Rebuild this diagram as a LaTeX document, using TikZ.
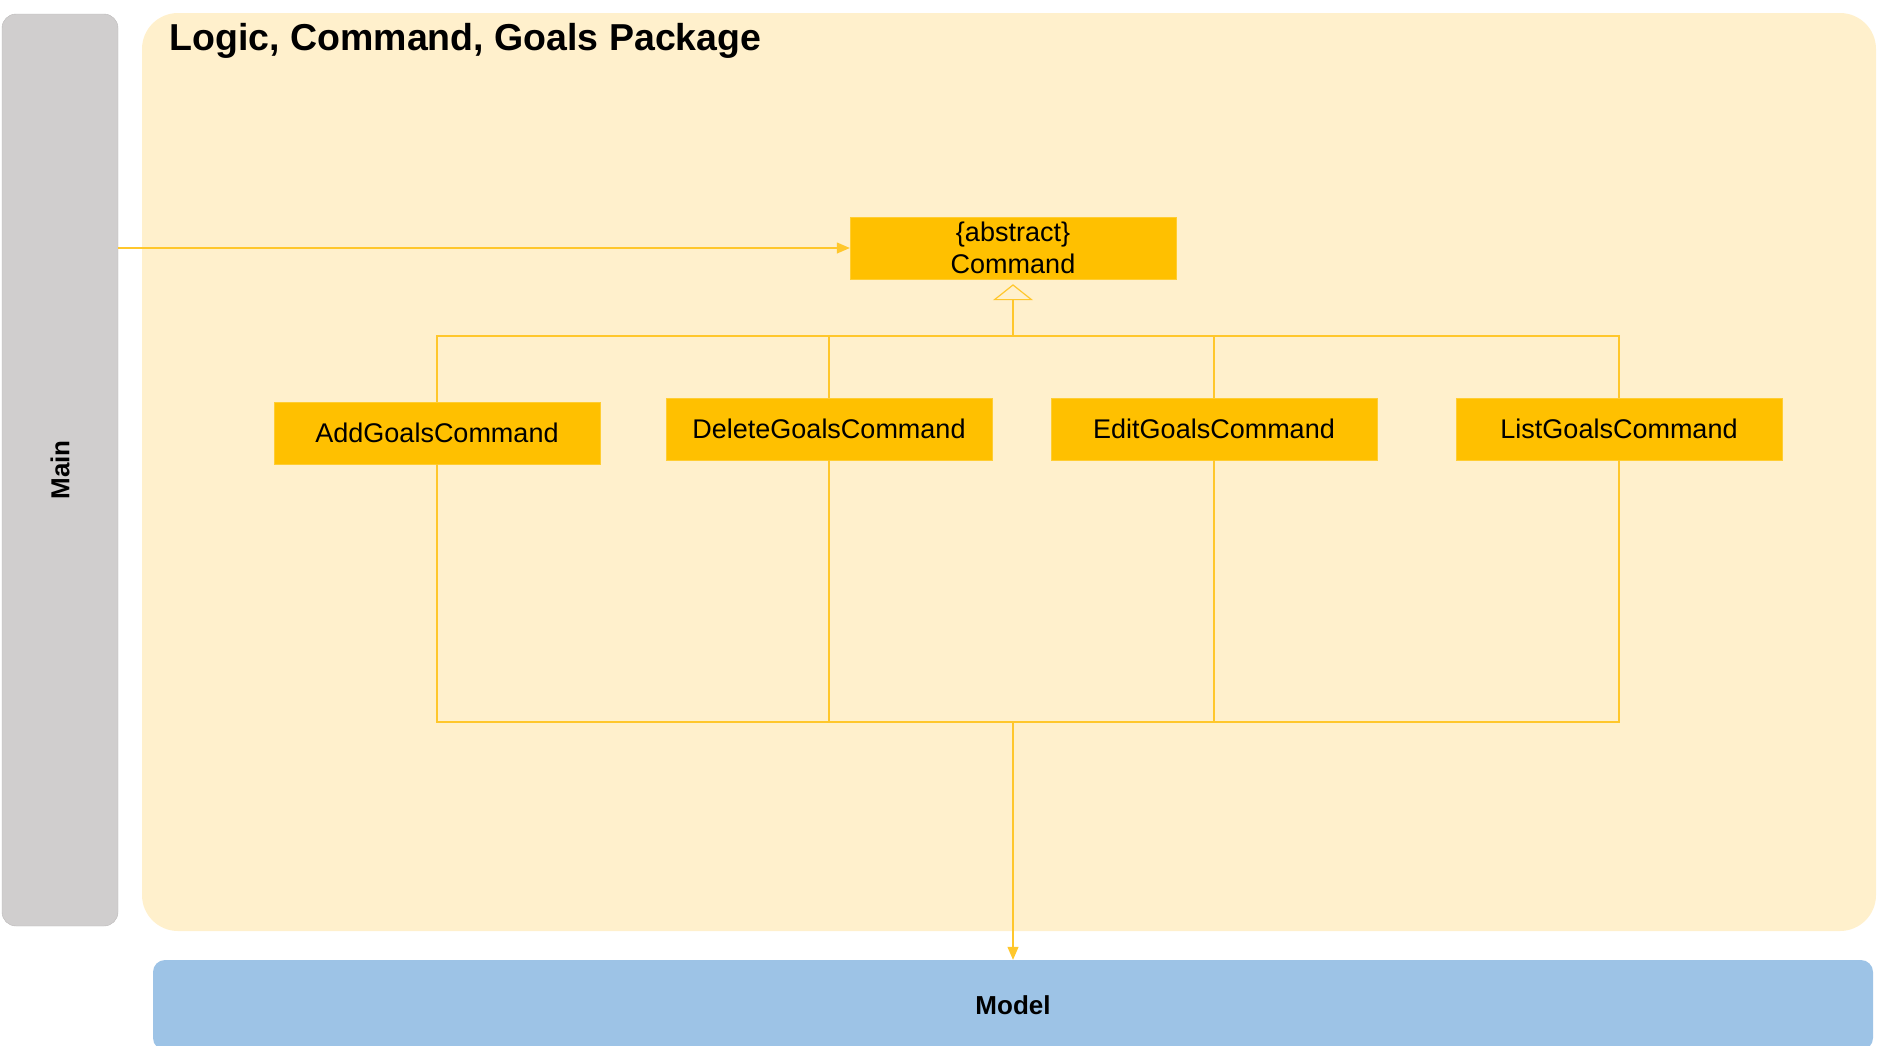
\documentclass[tikz,border=0pt]{standalone}
\usepackage{fontspec}
\setmainfont{Liberation Sans}
\usepackage{xcolor}
\usepackage{tikz}
\usetikzlibrary{calc, arrows.meta, positioning}

\definecolor{pkgfill}{HTML}{FFF0CC}
\definecolor{classfill}{HTML}{FFC000}
\definecolor{linkcol}{HTML}{FFC72C}
\definecolor{mainfill}{HTML}{D0CECE}
\definecolor{modelfill}{HTML}{9DC3E6}

\begin{document}
\begin{tikzpicture}[x=1pt, y=-1pt,
  every node/.style={font=\fontsize{27}{32}\selectfont, text=black},
  classbox/.style={fill=classfill, draw=classfill!80!white, minimum width=326pt,
    minimum height=62pt, inner sep=0pt, align=center},
  link/.style={draw=linkcol, line width=1.2pt},
  usearrow/.style={link, -{Triangle[length=13pt, width=11pt]}}]

\useasboundingbox (0,0) rectangle (1877,1045);

% ------------------------------------------------------------------
% LAYERS (Main, package, Model)
% ------------------------------------------------------------------
\node[fill=mainfill, draw=mainfill!90!black, rounded corners=14pt, minimum width=116pt,
      minimum height=912pt, inner sep=0pt] (main) at (60,470) {};
\node[rotate=90, font=\fontsize{26}{30}\selectfont\bfseries] at (main.center) {Main};

\node[fill=pkgfill, rounded corners=36pt, minimum width=1734pt,
      minimum height=918pt, inner sep=0pt] (pkg) at (1009,472) {};
\node[anchor=west, font=\fontsize{37.5}{40}\selectfont\bfseries] (title) at (166,41)
  {Logic, Command, Goals Package};

\node[fill=modelfill, rounded corners=12pt, minimum width=1720pt,
      minimum height=90pt, inner sep=0pt, font=\fontsize{26}{30}\selectfont\bfseries]
  (model) at (1013,1005) {Model};

% ------------------------------------------------------------------
% CLASSES
% ------------------------------------------------------------------
\node[classbox] (cmd)  at (1013,248) {\{abstract\}\\Command};
\node[classbox] (add)  at (437,433)  {AddGoalsCommand};
\node[classbox] (del)  at (829,429)  {DeleteGoalsCommand};
\node[classbox] (edit) at (1214,429) {EditGoalsCommand};
\node[classbox] (list) at (1619,429) {ListGoalsCommand};

% bus junctions
\coordinate (top) at (1013,336);
\coordinate (bot) at (1013,722);

% ------------------------------------------------------------------
% CONNECTORS
% ------------------------------------------------------------------
\draw[usearrow] (main.east |- cmd.west) -- (cmd.west);

% inheritance
\foreach \c in {add,del,edit,list} {
  \draw[link] (\c.north) |- (top);
}
\draw[link, -{Triangle[open, length=16pt, width=40pt, fill=pkgfill]}, shorten >=5pt]
  (top) -- (cmd.south);

% dependency on Model
\foreach \c in {add,del,edit,list} {
  \draw[link] (\c.south) |- (bot);
}
\draw[usearrow] (bot) -- (model.north);

\end{tikzpicture}
\end{document}
